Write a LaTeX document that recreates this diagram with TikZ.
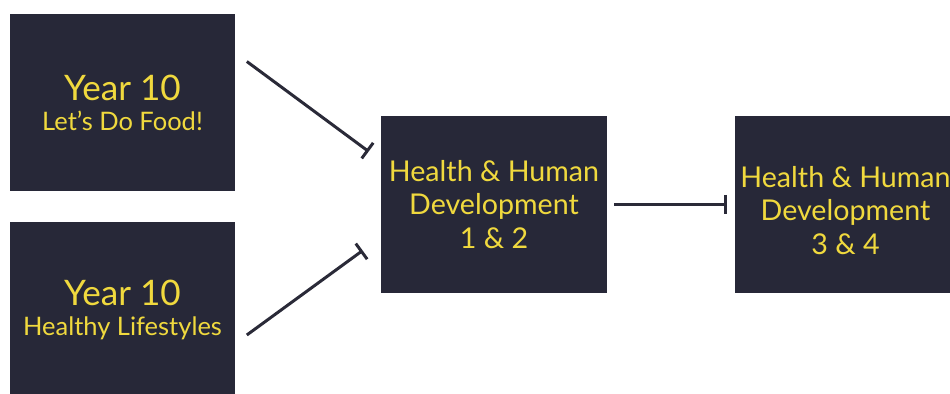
\documentclass[tikz,border=0pt]{standalone}
\usepackage{fontspec}
\setmainfont{Lato}
\usetikzlibrary{arrows.meta,positioning}
\definecolor{boxnavy}{HTML}{272838}
\definecolor{boxgold}{HTML}{F0D93E}
\definecolor{linkgrey}{HTML}{2A2A38}

\begin{document}
\begin{tikzpicture}[x=0.02cm, y=-0.02cm,
    unit/.style={fill=boxnavy, text=boxgold, align=center,
        minimum width=4.52cm, minimum height=3.54cm, inner sep=0pt},
    title/.style={text=boxgold, align=center, font=\fontsize{16.3}{19.3}\selectfont},
    link/.style={draw=linkgrey, line width=1.7pt, -{Bar[width=11pt]}}]
    \fill [white] (0,0) rectangle (950,393);
    \useasboundingbox (0,0) rectangle (950,393);
    \clip (0,0) rectangle (950,393);
    \node [unit] (food) at (122.5,102.5)
        {{\fontsize{20}{24}\selectfont Year 10}\\[5pt]{\fontsize{14.5}{17}\selectfont Let’s Do Food!}};
    \node [unit] (life) at (122.5,310)
        {{\fontsize{20}{24}\selectfont Year 10}\\[5pt]{\fontsize{14.5}{17}\selectfont Healthy Lifestyles}};
    \node [unit, font=\fontsize{16.3}{19.3}\selectfont] (hhd12) at (494,204.5)
        {Health \& Human\\Development\\1 \& 2};
    \node [unit, label={[title, xshift=-0.05cm, yshift=-0.12cm]center:Health \& Human\\Development\\3 \& 4}] (hhd34) at (848,204.5) {};
    \draw [link] ([shift={(11,-41)}]food.east) -- ([shift={(-12,-53)}]hhd12.west);
    \draw [link] ([shift={(11,25)}]life.east) -- ([shift={(-18,46)}]hhd12.west);
    \draw [link, shorten <=4pt, shorten >=4.5pt] (hhd12.east) -- (hhd34.west);
\end{tikzpicture}
\end{document}
